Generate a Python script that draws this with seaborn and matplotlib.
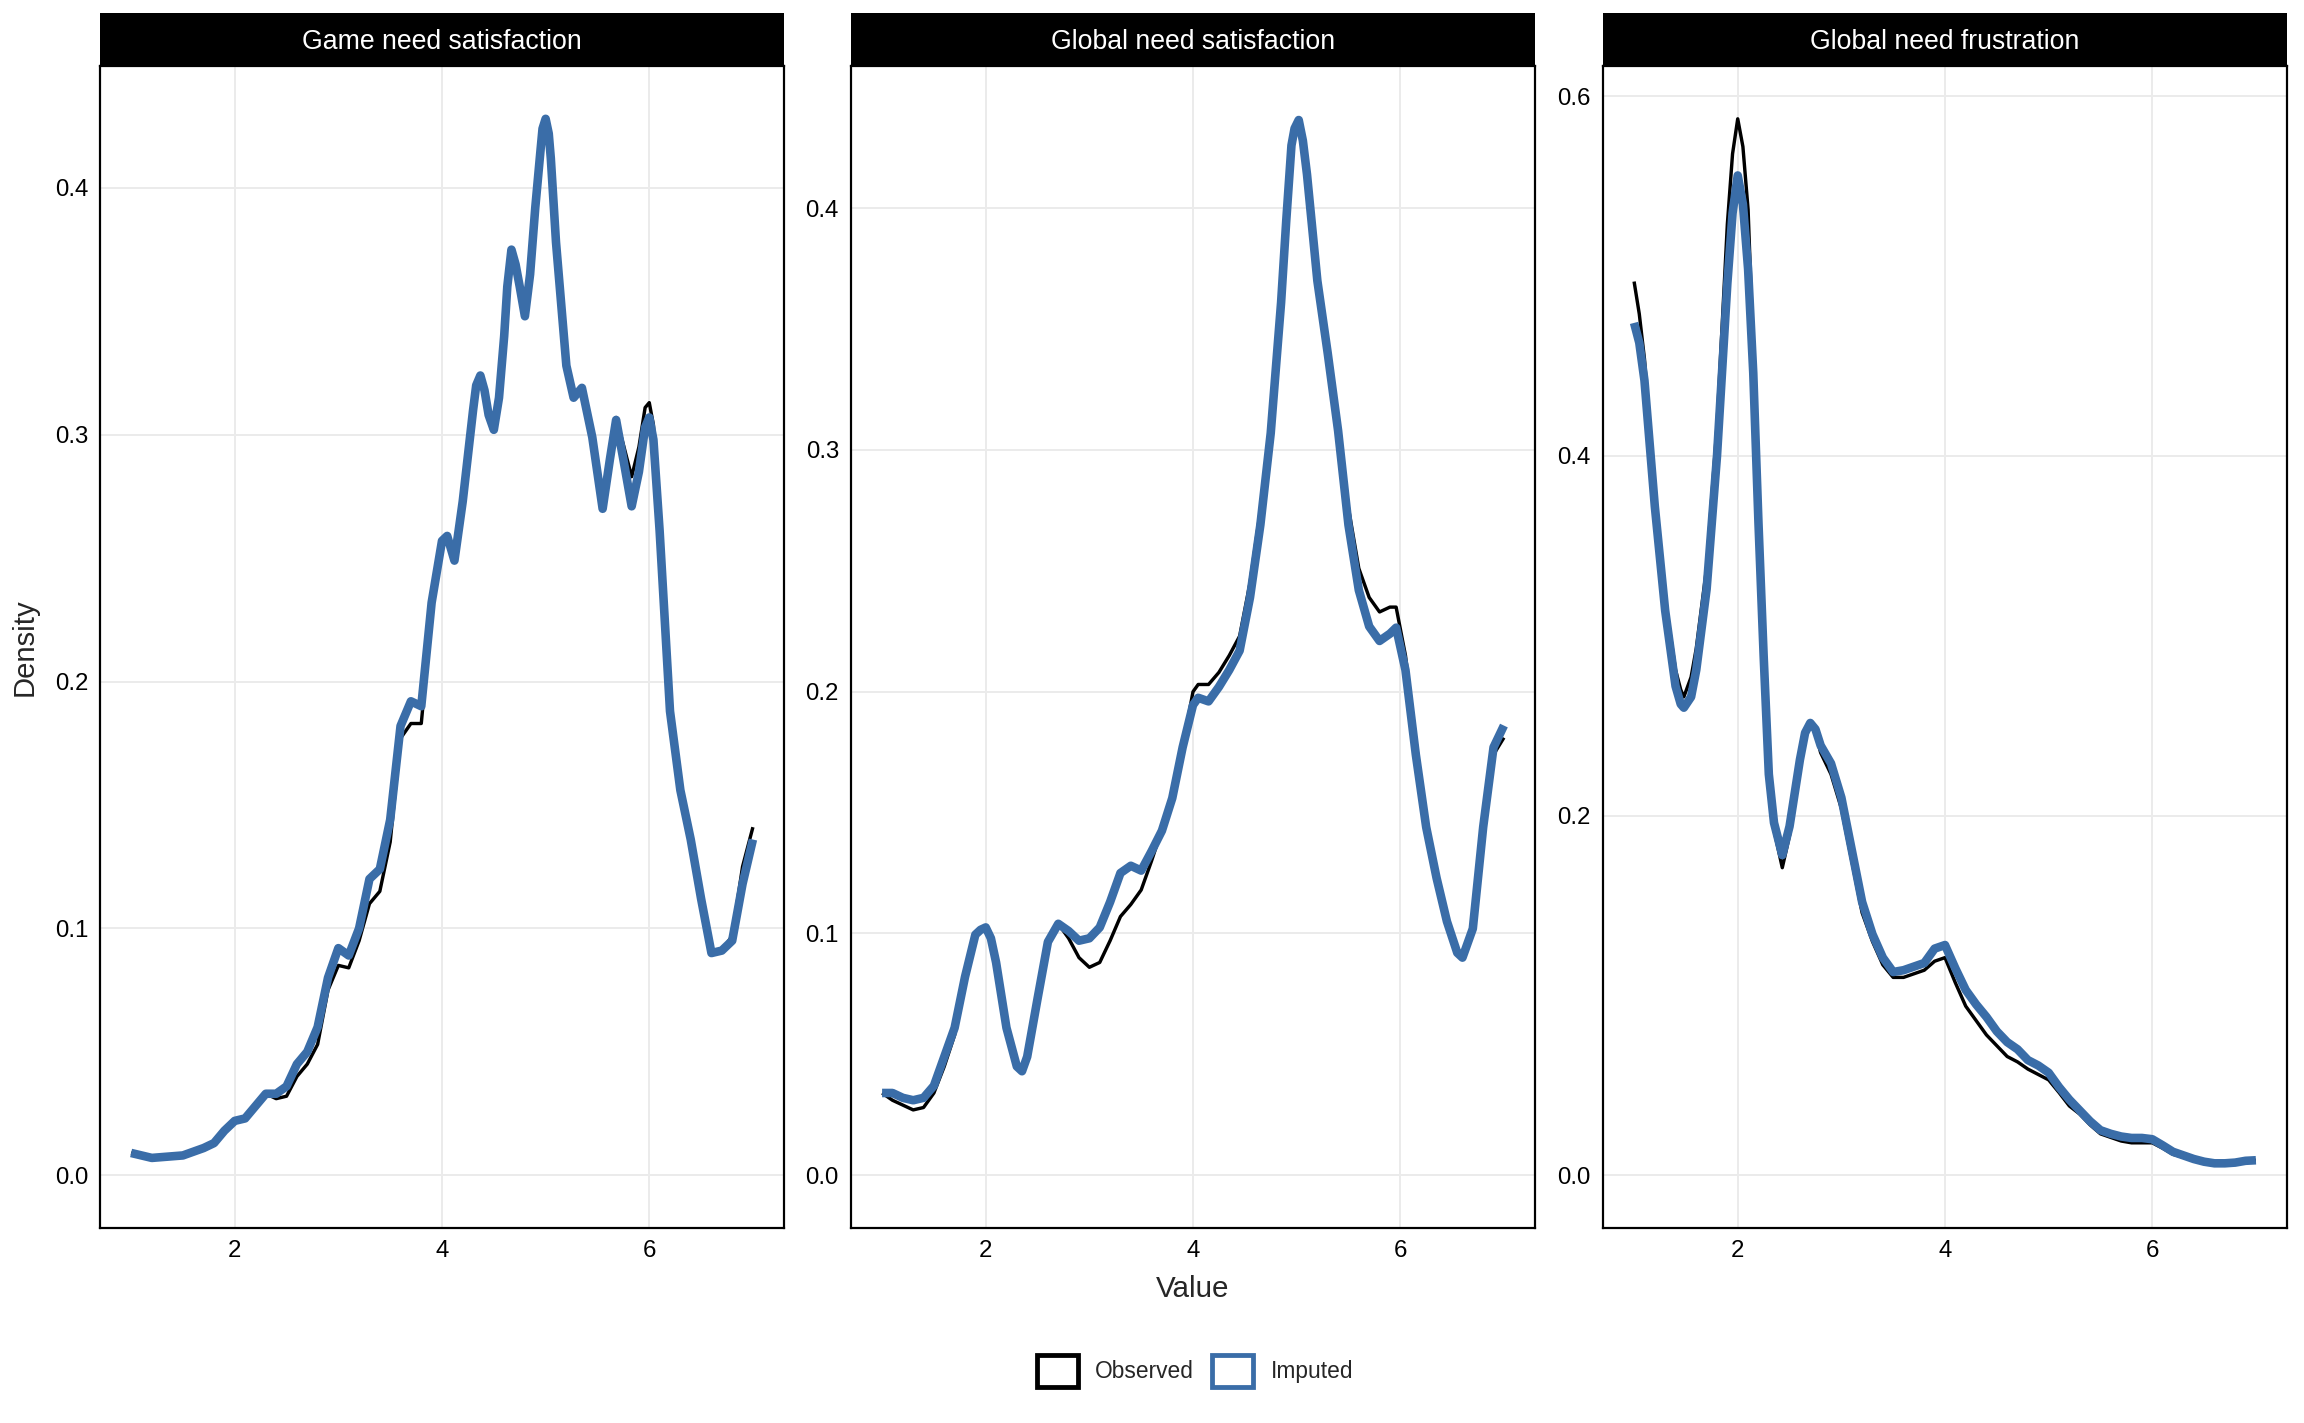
import numpy as np
import pandas as pd
import matplotlib
matplotlib.use("Agg")
import matplotlib.pyplot as plt
from matplotlib.patches import Patch
import seaborn as sns

# ---------------- data ----------------
panels = ["Game need satisfaction", "Global need satisfaction", "Global need frustration"]
series = ["Observed", "Imputed"]

game_x = [1.0, 1.2, 1.5, 1.7, 1.8, 1.9, 2.0, 2.1, 2.2, 2.3, 2.4, 2.5, 2.6, 2.7, 2.8, 2.9,
          3.0, 3.1, 3.2, 3.3, 3.4, 3.5, 3.6, 3.7, 3.8, 3.9, 4.0, 4.05, 4.12, 4.2, 4.3, 4.33,
          4.37, 4.41, 4.45, 4.5, 4.55, 4.6, 4.63, 4.67, 4.71, 4.75, 4.8, 4.85, 4.9, 4.95,
          4.97, 5.0, 5.03, 5.05, 5.1, 5.2, 5.27, 5.35, 5.45, 5.55, 5.62, 5.68, 5.75, 5.83,
          5.9, 5.96, 6.0, 6.04, 6.1, 6.2, 6.3, 6.4, 6.5, 6.6, 6.7, 6.8, 6.9, 7.0]
game_imp = [0.009, 0.007, 0.008, 0.011, 0.013, 0.018, 0.022, 0.023, 0.028, 0.033, 0.033, 0.036,
            0.045, 0.050, 0.060, 0.080, 0.092, 0.089, 0.100, 0.120, 0.124, 0.144, 0.182, 0.192,
            0.190, 0.232, 0.257, 0.259, 0.249, 0.273, 0.310, 0.320, 0.324, 0.318, 0.308, 0.302,
            0.315, 0.340, 0.360, 0.375, 0.369, 0.360, 0.348, 0.365, 0.392, 0.415, 0.424, 0.428,
            0.422, 0.412, 0.378, 0.328, 0.315, 0.319, 0.299, 0.270, 0.290, 0.306, 0.290, 0.271,
            0.285, 0.303, 0.307, 0.298, 0.261, 0.188, 0.156, 0.136, 0.112, 0.090, 0.091, 0.095,
            0.118, 0.136]
game_obs = [0.009, 0.007, 0.008, 0.011, 0.013, 0.018, 0.022, 0.023, 0.028, 0.033, 0.031, 0.032,
            0.040, 0.045, 0.053, 0.075, 0.085, 0.084, 0.095, 0.110, 0.115, 0.135, 0.177, 0.183,
            0.183, 0.228, 0.255, 0.258, 0.249, 0.273, 0.310, 0.320, 0.324, 0.318, 0.308, 0.302,
            0.315, 0.340, 0.360, 0.375, 0.369, 0.360, 0.348, 0.365, 0.392, 0.415, 0.424, 0.428,
            0.422, 0.412, 0.378, 0.328, 0.315, 0.319, 0.299, 0.275, 0.292, 0.307, 0.296, 0.283,
            0.295, 0.311, 0.313, 0.304, 0.265, 0.188, 0.156, 0.136, 0.112, 0.090, 0.091, 0.097,
            0.125, 0.141]

gsat_x = [1.0, 1.1, 1.2, 1.3, 1.4, 1.5, 1.6, 1.7, 1.8, 1.9, 1.95, 2.0, 2.05, 2.1, 2.2, 2.3,
          2.35, 2.4, 2.5, 2.6, 2.7, 2.8, 2.9, 3.0, 3.1, 3.2, 3.3, 3.4, 3.5, 3.6, 3.7, 3.8,
          3.9, 4.0, 4.05, 4.15, 4.25, 4.35, 4.45, 4.55, 4.65, 4.75, 4.85, 4.9, 4.95, 4.98,
          5.02, 5.06, 5.1, 5.2, 5.3, 5.4, 5.5, 5.6, 5.7, 5.8, 5.9, 5.96, 6.05, 6.15, 6.25,
          6.35, 6.45, 6.55, 6.6, 6.7, 6.8, 6.9, 7.0]
gsat_imp = [0.034, 0.034, 0.032, 0.031, 0.032, 0.037, 0.049, 0.061, 0.082, 0.0995, 0.1015, 0.1025,
            0.098, 0.088, 0.061, 0.045, 0.043, 0.049, 0.073, 0.0965, 0.104, 0.101, 0.097, 0.098,
            0.1025, 0.113, 0.125, 0.128, 0.126, 0.134, 0.1425, 0.156, 0.177, 0.1945, 0.1975, 0.196,
            0.202, 0.209, 0.217, 0.239, 0.269, 0.307, 0.361, 0.395, 0.426, 0.433, 0.4365, 0.428,
            0.414, 0.370, 0.340, 0.308, 0.269, 0.242, 0.227, 0.221, 0.224, 0.2265, 0.209, 0.174,
            0.144, 0.123, 0.105, 0.092, 0.090, 0.102, 0.144, 0.177, 0.186]
gsat_obs = [0.034, 0.031, 0.029, 0.027, 0.028, 0.034, 0.045, 0.058, 0.080, 0.0995, 0.1015, 0.1025,
            0.098, 0.088, 0.061, 0.045, 0.043, 0.049, 0.073, 0.0965, 0.104, 0.098, 0.090, 0.086,
            0.088, 0.097, 0.107, 0.112, 0.118, 0.130, 0.143, 0.154, 0.177, 0.200, 0.203, 0.203,
            0.208, 0.215, 0.223, 0.245, 0.275, 0.311, 0.363, 0.396, 0.427, 0.434, 0.437, 0.429,
            0.415, 0.371, 0.342, 0.312, 0.276, 0.251, 0.239, 0.233, 0.235, 0.235, 0.215, 0.180,
            0.147, 0.124, 0.106, 0.093, 0.091, 0.103, 0.142, 0.174, 0.181]

gfru_x = [1.0, 1.05, 1.1, 1.2, 1.3, 1.4, 1.45, 1.48, 1.55, 1.6, 1.7, 1.8, 1.9, 1.95, 2.0, 2.05,
          2.1, 2.15, 2.2, 2.25, 2.3, 2.35, 2.43, 2.5, 2.6, 2.65, 2.7, 2.75, 2.8, 2.9, 3.0, 3.1,
          3.2, 3.3, 3.4, 3.5, 3.6, 3.7, 3.8, 3.9, 4.0, 4.1, 4.2, 4.3, 4.4, 4.5, 4.6, 4.7,
          4.8, 4.9, 5.0, 5.1, 5.2, 5.3, 5.4, 5.5, 5.6, 5.7, 5.8, 5.9, 6.0, 6.1, 6.2, 6.3,
          6.4, 6.5, 6.6, 6.7, 6.8, 6.9, 7.0]
gfru_imp = [0.474, 0.463, 0.442, 0.372, 0.314, 0.272, 0.262, 0.260, 0.266, 0.281, 0.326, 0.400,
            0.496, 0.535, 0.556, 0.540, 0.504, 0.446, 0.363, 0.289, 0.223, 0.196, 0.178, 0.194,
            0.231, 0.246, 0.2515, 0.248, 0.239, 0.229, 0.210, 0.181, 0.152, 0.134, 0.121, 0.113,
            0.114, 0.116, 0.118, 0.126, 0.128, 0.115, 0.103, 0.095, 0.088, 0.080, 0.074, 0.070,
            0.064, 0.061, 0.057, 0.049, 0.042, 0.036, 0.030, 0.025, 0.023, 0.0215, 0.0207, 0.0207,
            0.020, 0.0166, 0.013, 0.011, 0.009, 0.0075, 0.0066, 0.0066, 0.007, 0.008, 0.0083]
gfru_obs = [0.497, 0.479, 0.454, 0.380, 0.320, 0.281, 0.270, 0.266, 0.277, 0.293, 0.338, 0.417,
            0.529, 0.568, 0.5875, 0.572, 0.537, 0.458, 0.380, 0.301, 0.231, 0.192, 0.171, 0.189,
            0.229, 0.244, 0.2515, 0.246, 0.235, 0.223, 0.204, 0.175, 0.146, 0.130, 0.117, 0.110,
            0.110, 0.112, 0.114, 0.119, 0.121, 0.107, 0.094, 0.086, 0.078, 0.072, 0.066, 0.063,
            0.059, 0.056, 0.053, 0.046, 0.0385, 0.034, 0.028, 0.023, 0.021, 0.019, 0.018, 0.018,
            0.018, 0.015, 0.0116, 0.010, 0.009, 0.0075, 0.0066, 0.0066, 0.007, 0.008, 0.0083]

x_ticks = [2, 4, 6]
y_ticks = [[0.0, 0.1, 0.2, 0.3, 0.4], [0.0, 0.1, 0.2, 0.3, 0.4], [0.0, 0.2, 0.4, 0.6]]

# ---------------- long table ----------------
frames = []
for name, xs, obs, imp in [(panels[0], game_x, game_obs, game_imp),
                           (panels[1], gsat_x, gsat_obs, gsat_imp),
                           (panels[2], gfru_x, gfru_obs, gfru_imp)]:
    frames.append(pd.DataFrame({"panel": name, "Value": xs, "Density": obs, "Type": "Observed"}))
    frames.append(pd.DataFrame({"panel": name, "Value": xs, "Density": imp, "Type": "Imputed"}))
df = pd.concat(frames, ignore_index=True)

# ---------------- style ----------------
sns.set_theme(style="white")
plt.rcParams["font.family"] = ["Liberation Sans", "DejaVu Sans"]
plt.rcParams["lines.solid_joinstyle"] = "round"
plt.rcParams["lines.solid_capstyle"] = "butt"

BLUE = "#3A6DA8"
palette = {"Observed": "black", "Imputed": BLUE}
sizes = {"Observed": 1.7, "Imputed": 4.3}

W, H = 2304, 1423
fig = plt.figure(figsize=(W / 144, H / 144), dpi=144)

lefts = [100, 851, 1603]
pw = 684
top_px, bot_px = 66, 1228
strip_top = 13

for i, name in enumerate(panels):
    ax = fig.add_axes([lefts[i] / W, 1 - bot_px / H, pw / W, (bot_px - top_px) / H])
    sub = df[df["panel"] == name]
    sns.lineplot(data=sub, x="Value", y="Density", hue="Type", size="Type",
                 hue_order=series, size_order=series, palette=palette, sizes=sizes,
                 estimator=None, sort=False, legend=False, ax=ax)
    ymax = sub["Density"].max()
    ax.set_xlim(0.7, 7.3)
    ax.set_ylim(-0.05 * ymax, 1.05 * ymax)
    ax.set_xticks(x_ticks)
    ax.set_xticklabels([str(t) for t in x_ticks])
    ax.set_yticks(y_ticks[i])
    ax.set_yticklabels([f"{t:.1f}" for t in y_ticks[i]])
    ax.grid(True, color="#EBEBEB", linewidth=1.0)
    ax.set_axisbelow(True)
    ax.tick_params(length=0, labelsize=12, colors="black", pad=6)
    ax.set_xlabel("")
    ax.set_ylabel("")
    for s in ax.spines.values():
        s.set_visible(True)
        s.set_color("black")
        s.set_linewidth(1.1)
    # strip
    sax = fig.add_axes([lefts[i] / W, 1 - top_px / H, pw / W, (top_px - strip_top) / H])
    sax.set_facecolor("black")
    sax.set_xticks([])
    sax.set_yticks([])
    for s in sax.spines.values():
        s.set_visible(False)
    sax.text(0.5, 0.45, name, color="white", ha="center", va="center", fontsize=13.3,
             transform=sax.transAxes)

fig.text(25 / W, 1 - 647 / H, "Density", rotation=90, ha="center", va="center", fontsize=14.6)
fig.text(1193 / W, 1 - 1289 / H, "Value", ha="center", va="center", fontsize=14.8)

handles = [Patch(facecolor="white", edgecolor=palette[s], linewidth=2.4, label=s) for s in series]
fig.legend(handles=handles, loc="center", bbox_to_anchor=(1195 / W, 1 - 1371 / H), ncol=2,
           frameon=False, fontsize=11.4, handlelength=1.8, handleheight=1.8,
           handletextpad=0.75, columnspacing=0.8)

fig.savefig("out.png", dpi=144, facecolor="white")
